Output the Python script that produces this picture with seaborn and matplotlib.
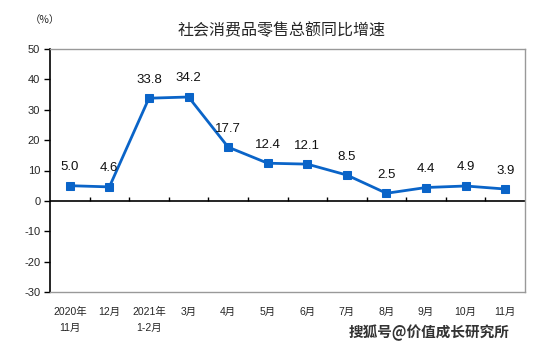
import numpy as np
import pandas as pd
import matplotlib.pyplot as plt
import seaborn as sns

# data
months = ['2020年\n11月', '12月', '2021年\n1-2月', '3月', '4月', '5月',
          '6月', '7月', '8月', '9月', '10月', '11月']
growth = [5.0, 4.6, 33.8, 34.2, 17.7, 12.4, 12.1, 8.5, 2.5, 4.4, 4.9, 3.9]
yticks = [-30, -20, -10, 0, 10, 20, 30, 40, 50]

sns.set_style('white')
plt.rcParams['font.family'] = ['Liberation Sans', 'Noto Sans CJK SC', 'DejaVu Sans']

df = pd.DataFrame({'pos': np.arange(len(months)), 'value': growth})
blue = '#0a64c8'

fig = plt.figure(figsize=(5.53, 3.51), dpi=100)
ax = fig.add_axes([50 / 553, 1 - 292 / 351, 475 / 553, 243 / 351])

sns.lineplot(data=df, x='pos', y='value', ax=ax, color=blue, linewidth=2,
             marker='s', markersize=5.5, markeredgecolor=blue)

for x, v in zip(df['pos'], df['value']):
    ax.annotate(f'{v:.1f}', (x, v), xytext=(0, 9), textcoords='offset points',
                ha='center', va='bottom', fontsize=9.5, color='#111111')

ax.set_xlim(-0.5, len(months) - 0.5)
ax.set_ylim(yticks[0], yticks[-1])
ax.set_yticks(yticks)
ax.set_yticklabels([str(t) for t in yticks], fontsize=8)
ax.set_xticks(df['pos'])
ax.set_xticklabels(months, fontsize=7.5, linespacing=1.7, va='top')
ax.tick_params(axis='x', length=0, pad=11)
ax.tick_params(axis='y', direction='out', length=4, width=1, color='black', left=True, pad=3)
ax.set_xlabel('')
ax.set_ylabel('')

# zero line with small category dividers
ax.axhline(0, color='black', linewidth=1.2)
bounds = np.arange(len(months) - 1) + 0.5
ax.vlines(bounds, 0, 1.4, color='black', linewidth=1)

for side in ['top', 'right', 'bottom']:
    ax.spines[side].set_color('#999999')
    ax.spines[side].set_linewidth(1)
ax.spines['left'].set_color('black')
ax.spines['left'].set_linewidth(1.2)

fig.text(282 / 553, 1 - 31 / 351, '社会消费品零售总额同比增速', ha='center', va='center',
         fontsize=11.5, family=['Noto Sans CJK SC', 'DejaVu Sans'])
fig.text(45 / 553, 1 - 20 / 351, '（%）', ha='center', va='center', fontsize=7.5,
         family=['Noto Sans CJK SC', 'DejaVu Sans'])
fig.text(510 / 553, 1 - 333 / 351, '搜狐号@价值成长研究所', ha='right', va='center',
         fontsize=10.5, color='#333333', fontweight='bold',
         family=['Noto Sans CJK SC', 'DejaVu Sans'])

plt.savefig('out.png', dpi=100)
